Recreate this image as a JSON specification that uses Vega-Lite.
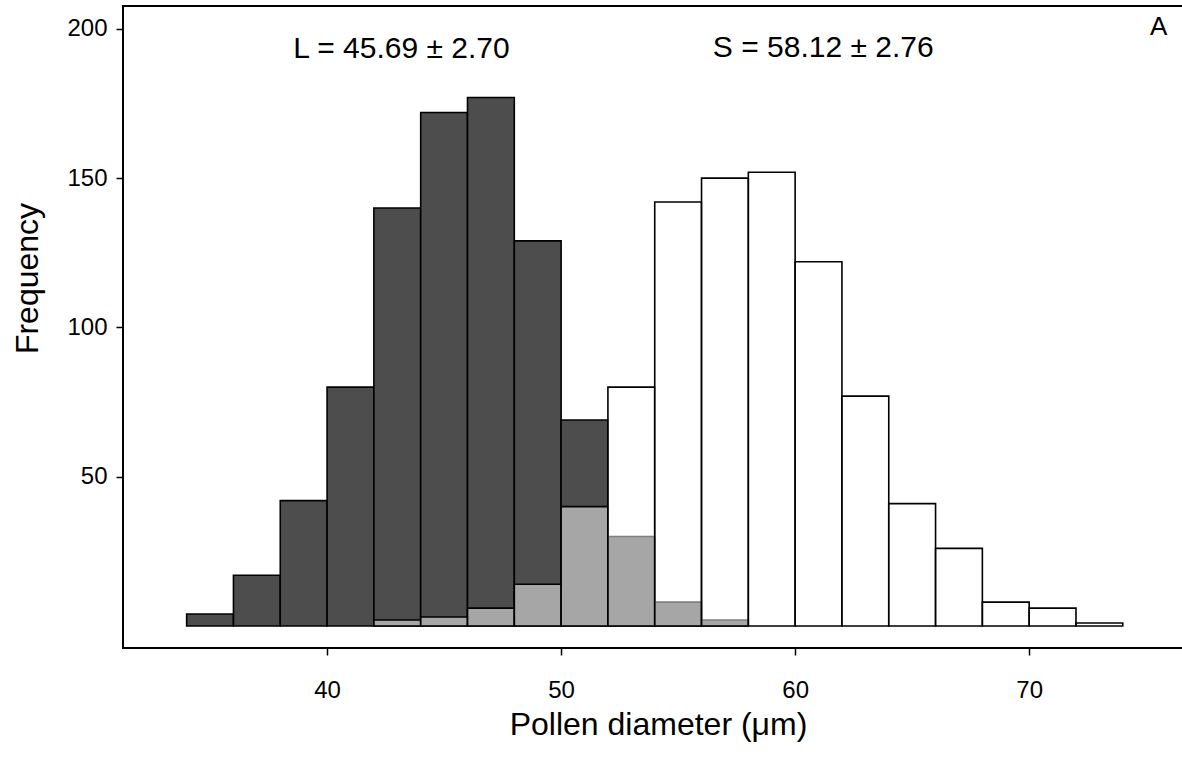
{
  "$schema": "https://vega.github.io/schema/vega-lite/v6.json",
  "autosize": "none",
  "padding": {"left": 123, "top": 6, "right": 0, "bottom": 116},
  "width": 1070,
  "height": 642,
  "background": "white",
  "config": {
    "view": {"stroke": "black", "strokeWidth": 2},
    "font": "Liberation Sans",
    "axis": {"labelFont": "Liberation Sans", "titleFont": "Liberation Sans", "labelColor": "black", "titleColor": "black", "tickColor": "black", "domain": false, "grid": false, "titleFontWeight": "normal"}
  },
  "datasets": {
    "bars": [
      {"group": "L", "bin_start": 34, "bin_end": 36, "count": 4},
      {"group": "L", "bin_start": 36, "bin_end": 38, "count": 17},
      {"group": "L", "bin_start": 38, "bin_end": 40, "count": 42},
      {"group": "L", "bin_start": 40, "bin_end": 42, "count": 80},
      {"group": "L", "bin_start": 42, "bin_end": 44, "count": 140},
      {"group": "L", "bin_start": 44, "bin_end": 46, "count": 172},
      {"group": "L", "bin_start": 46, "bin_end": 48, "count": 177},
      {"group": "L", "bin_start": 48, "bin_end": 50, "count": 129},
      {"group": "L", "bin_start": 50, "bin_end": 52, "count": 69},
      {"group": "L", "bin_start": 52, "bin_end": 54, "count": 30},
      {"group": "L", "bin_start": 54, "bin_end": 56, "count": 8},
      {"group": "L", "bin_start": 56, "bin_end": 58, "count": 2},
      {"group": "S", "bin_start": 42, "bin_end": 44, "count": 2},
      {"group": "S", "bin_start": 44, "bin_end": 46, "count": 3},
      {"group": "S", "bin_start": 46, "bin_end": 48, "count": 6},
      {"group": "S", "bin_start": 48, "bin_end": 50, "count": 14},
      {"group": "S", "bin_start": 50, "bin_end": 52, "count": 40},
      {"group": "S", "bin_start": 52, "bin_end": 54, "count": 80},
      {"group": "S", "bin_start": 54, "bin_end": 56, "count": 142},
      {"group": "S", "bin_start": 56, "bin_end": 58, "count": 150},
      {"group": "S", "bin_start": 58, "bin_end": 60, "count": 152},
      {"group": "S", "bin_start": 60, "bin_end": 62, "count": 122},
      {"group": "S", "bin_start": 62, "bin_end": 64, "count": 77},
      {"group": "S", "bin_start": 64, "bin_end": 66, "count": 41},
      {"group": "S", "bin_start": 66, "bin_end": 68, "count": 26},
      {"group": "S", "bin_start": 68, "bin_end": 70, "count": 8},
      {"group": "S", "bin_start": 70, "bin_end": 72, "count": 6},
      {"group": "S", "bin_start": 72, "bin_end": 74, "count": 1}
    ],
    "labels": [
      {"label": "L = 45.69 ± 2.70", "x": 43.18, "y": 190.3, "size": 30},
      {"label": "S = 58.12 ± 2.76", "x": 61.2, "y": 190.6, "size": 30},
      {"label": "A", "x": 75.53, "y": 197.96, "size": 26}
    ]
  },
  "layer": [
    {
      "data": {"name": "bars"},
      "transform": [{"filter": "datum.group === 'L'"}],
      "mark": {"type": "bar", "fill": "#4D4D4D", "stroke": "black", "strokeWidth": 1.6},
      "encoding": {
        "x": {"field": "bin_start", "type": "quantitative", "scale": {"domain": [31.28, 77], "nice": false, "zero": false},
          "axis": {"values": [40, 50, 60, 70], "title": "Pollen diameter (μm)", "labelFontSize": 24, "tickSize": 7, "tickWidth": 1.5, "labelPadding": 23, "titleFontSize": 32, "titleBaseline": "alphabetic", "titleY": 86}},
        "x2": {"field": "bin_end"},
        "y": {"field": "count", "type": "quantitative", "scale": {"domain": [-7.37, 207.67], "nice": false, "zero": false},
          "axis": {"values": [50, 100, 150, 200], "title": "Frequency", "labelFontSize": 24, "tickSize": 7, "tickWidth": 1.5, "labelPadding": 9, "titleFontSize": 32, "titleAngle": 270, "titleBaseline": "alphabetic", "titleAlign": "center", "titleX": -86, "titleY": 272}},
        "y2": {"datum": 0}
      }
    },
    {
      "data": {"name": "bars"},
      "transform": [{"filter": "datum.group === 'S'"}],
      "mark": {"type": "bar", "fill": "white", "fillOpacity": 0.5, "stroke": "black", "strokeWidth": 1.6},
      "encoding": {
        "x": {"field": "bin_start", "type": "quantitative"},
        "x2": {"field": "bin_end"},
        "y": {"field": "count", "type": "quantitative"},
        "y2": {"datum": 0}
      }
    },
    {
      "data": {"name": "labels"},
      "mark": {"type": "text", "baseline": "alphabetic", "align": "center", "font": "Liberation Sans", "color": "black"},
      "encoding": {
        "x": {"field": "x", "type": "quantitative"},
        "y": {"field": "y", "type": "quantitative"},
        "text": {"field": "label"},
        "size": {"field": "size", "type": "quantitative", "scale": null}
      }
    }
  ]
}
